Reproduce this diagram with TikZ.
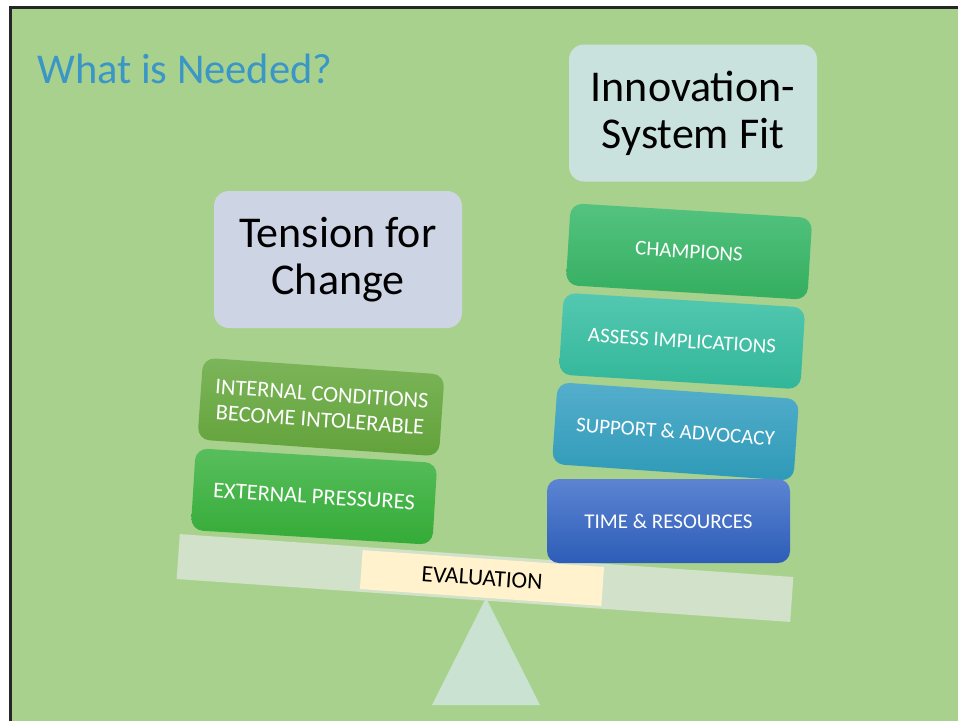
\documentclass[tikz,border=0pt]{standalone}
\usepackage{fontspec}
\setmainfont{Carlito}
\definecolor{slidebg}{HTML}{A9D18E}
\definecolor{titleblue}{HTML}{3A96C6}
\definecolor{tensionfill}{HTML}{CDD4E4}
\definecolor{fitfill}{HTML}{CAE2DE}
\definecolor{plankfill}{HTML}{D2E2CA}
\definecolor{evalfill}{HTML}{FFF2CC}
\definecolor{fulcrumfill}{HTML}{CAE2D2}
\definecolor{internalTop}{HTML}{7CB55A}
\definecolor{internalBot}{HTML}{62A23A}
\definecolor{externalTop}{HTML}{58BE5C}
\definecolor{externalBot}{HTML}{34AB37}
\definecolor{champTop}{HTML}{54C380}
\definecolor{champBot}{HTML}{34AE5F}
\definecolor{assessTop}{HTML}{54C8B1}
\definecolor{assessBot}{HTML}{31B698}
\definecolor{supportTop}{HTML}{54AECC}
\definecolor{supportBot}{HTML}{2E9AB7}
\definecolor{timeTop}{HTML}{5C84D2}
\definecolor{timeBot}{HTML}{2D5DB8}
\begin{document}
\begin{tikzpicture}[x=1pt,y=-1pt,
  headbox/.style={rounded corners=15pt, minimum width=248pt, minimum height=137pt,
    inner sep=0pt, align=center, text=black, font=\fontsize{44}{47}\selectfont},
  stepbox/.style={rounded corners=12pt, minimum width=242pt, minimum height=82pt,
    inner sep=0pt, align=center, text=white, font=\fontsize{21}{23}\selectfont},
  bigstep/.style={stepbox, font=\fontsize{22.5}{26}\selectfont},
  plankbar/.style={fill=plankfill, minimum width=615pt, minimum height=45pt, inner sep=0pt},
  evalbox/.style={fill=evalfill, minimum width=242pt, minimum height=39pt, inner sep=0pt,
    font=\fontsize{23.5}{25}\selectfont, text=black}]
\useasboundingbox (0,0) rectangle (958,721);
% slide frame
\fill[white] (0,0) rectangle (958,721);
\fill[black!85] (9,6) rectangle (958,721);
\fill[slidebg] (12,9) rectangle (958,721);

% title
\node[anchor=base west, inner sep=0pt, text=titleblue, font=\fontsize{42.5}{47}\selectfont]
  (title) at (37,83) {What is Needed?};

% headings
\node[headbox, fill=tensionfill] (tension) at (338,259.5) {Tension for\\Change};
\node[headbox, fill=fitfill] (fit) at (693,113) {Innovation-\\System Fit};

% fulcrum and plank
\coordinate (apex) at (486,598);
\coordinate (baseL) at (432,705);
\coordinate (baseR) at (540,705);
\fill[fulcrumfill] (apex) -- (baseR) -- (baseL) -- cycle;
\node[plankbar, rotate=-4] (plank) at (485,578) {};
\node[evalbox, rotate=-4] (eval) at (482,578) {EVALUATION};

% left stack
\node[bigstep, rotate=-4, top color=internalTop, bottom color=internalBot]
  (internal) at (321,407) {INTERNAL CONDITIONS\\BECOME INTOLERABLE};
\node[bigstep, rotate=-3.5, top color=externalTop, bottom color=externalBot]
  (external) at (314,496.5) {EXTERNAL PRESSURES};

% right stack
\node[stepbox, rotate=-3.5, top color=champTop, bottom color=champBot]
  (champ) at (689,251.5) {CHAMPIONS};
\node[stepbox, rotate=-3.5, top color=assessTop, bottom color=assessBot]
  (assess) at (682,341) {ASSESS IMPLICATIONS};
\node[stepbox, rotate=-4, top color=supportTop, bottom color=supportBot]
  (support) at (675.5,431.5) {SUPPORT \& ADVOCACY};
\node[stepbox, minimum width=243pt, minimum height=84pt, top color=timeTop, bottom color=timeBot]
  (time) at (668.5,521) {TIME \& RESOURCES};
\end{tikzpicture}
\end{document}
